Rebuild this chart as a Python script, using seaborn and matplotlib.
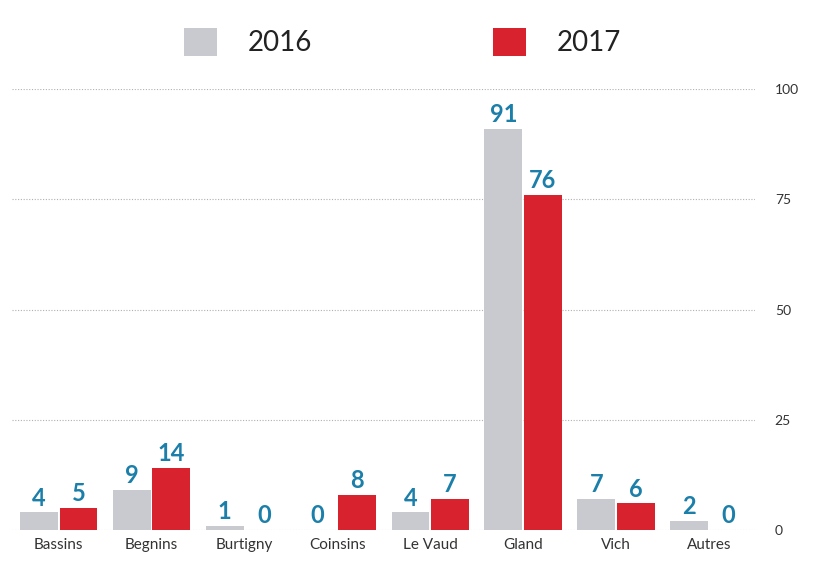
import matplotlib
matplotlib.use("Agg")
import matplotlib.pyplot as plt
import seaborn as sns
import pandas as pd
from matplotlib.patches import Patch

categories = ["Bassins", "Begnins", "Burtigny", "Coinsins", "Le Vaud", "Gland", "Vich", "Autres"]
years = ["2016", "2017"]
values_2016 = [4, 9, 1, 0, 4, 91, 7, 2]
values_2017 = [5, 14, 0, 8, 7, 76, 6, 0]
y_ticks = [0, 25, 50, 75, 100]

df = pd.DataFrame({
    "Commune": categories * 2,
    "Année": ["2016"] * len(categories) + ["2017"] * len(categories),
    "Valeur": values_2016 + values_2017,
})

sns.set_theme(style="white")
plt.rcParams["font.family"] = ["Lato", "DejaVu Sans"]

palette = {"2016": "#c9cad0", "2017": "#d8232f"}

fig = plt.figure(figsize=(8.21, 5.76), dpi=100)
ax = fig.add_axes([0.015, 0.08, 0.905, 0.765])

sns.barplot(data=df, x="Commune", y="Valeur", hue="Année", palette=palette,
            order=categories, hue_order=years, width=0.85, gap=0.04,
            saturation=1, edgecolor="none", legend=False, ax=ax)

ax.set_ylim(0, 100)
ax.set_yticks(y_ticks)
ax.yaxis.tick_right()
ax.tick_params(axis="y", length=0, labelsize=10, labelcolor="#333333", pad=14)
ax.tick_params(axis="x", length=0, labelsize=11, labelcolor="#333333", pad=6)
ax.set_xlabel("")
ax.set_ylabel("")
for s in ax.spines.values():
    s.set_visible(False)
ax.grid(axis="y", color="#b0b0b0", linestyle=(0, (1, 1.5)), linewidth=0.8)
ax.set_axisbelow(True)

for cont in ax.containers:
    ax.bar_label(cont, fmt="%d", color="#1b7fa9", fontsize=17, fontweight="bold", padding=2)

handles = [Patch(facecolor=palette[y], edgecolor="none") for y in years]
fig.legend(handles, years, loc="upper center", bbox_to_anchor=(0.49, 0.995), ncol=2,
           frameon=False, fontsize=20, handlelength=1.2, handleheight=1.2,
           columnspacing=6.5, handletextpad=1.1, labelcolor="#222222")

fig.savefig("out.png", dpi=100)
